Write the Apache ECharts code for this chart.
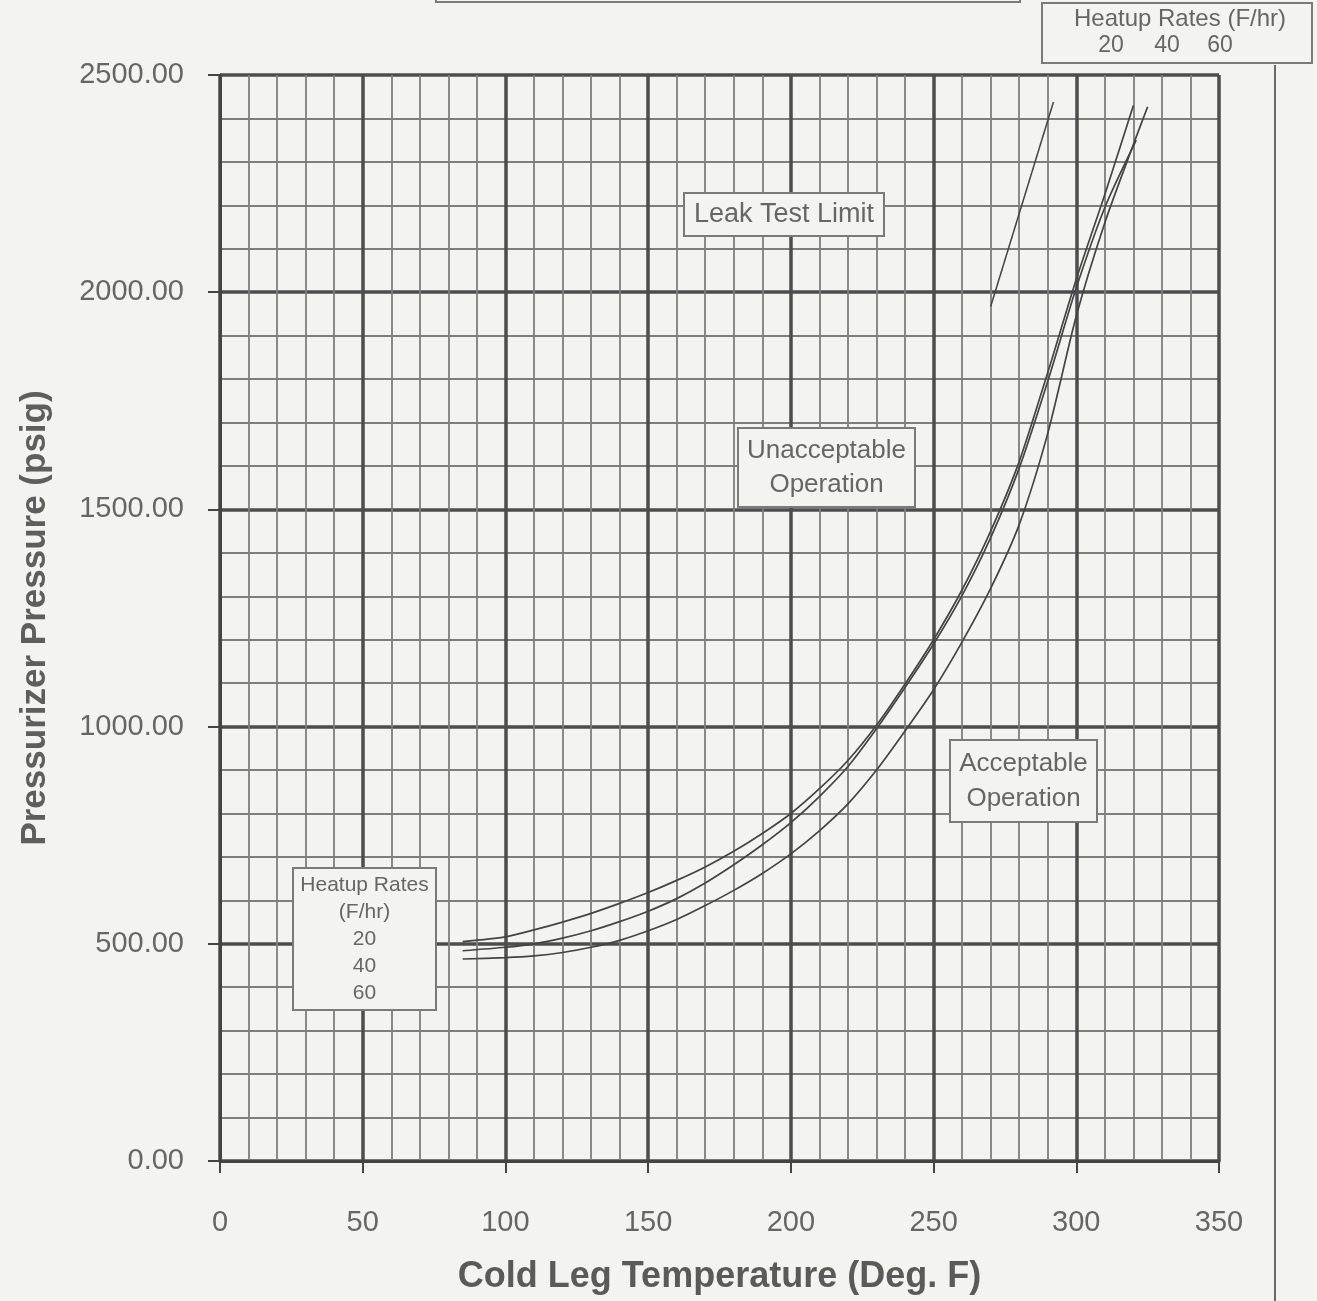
<!DOCTYPE html>
<html><head><meta charset="utf-8">
<script src="https://cdn.jsdelivr.net/npm/echarts@6/dist/echarts.min.js"></script>
<style>html,body{margin:0;padding:0;background:#f3f3f1;}#c{width:1317px;height:1301px;}</style>
</head><body><div id="c"></div>
<script>
// Data (temperature °F, pressure psig)
const rate20 = [[85,505],[100,516],[110,532],[120,550],[130,570],[140,593],[150,618],[160,646],[170,677],[180,713],[190,754],[200,800],[210,857],[220,922],[230,1003],[240,1098],[250,1200],[260,1315],[270,1450],[280,1610],[290,1815],[300,2030],[310,2225],[320,2430]];
const rate40 = [[85,484],[100,492],[110,500],[120,513],[130,530],[140,551],[150,575],[160,604],[170,640],[180,682],[190,728],[200,779],[210,839],[220,908],[230,995],[240,1090],[250,1190],[260,1302],[270,1435],[280,1595],[290,1795],[300,2010],[310,2195],[321,2350]];
const rate60 = [[85,465],[100,468],[110,472],[120,480],[130,492],[140,508],[150,530],[160,556],[170,588],[180,623],[190,662],[200,707],[210,760],[220,822],[230,900],[240,990],[250,1085],[260,1195],[270,1318],[280,1465],[290,1675],[300,1945],[310,2160],[320,2340],[325,2427]];
const leakTest = [[270,1967],[292,2438]];
const xTicks = [0,50,100,150,200,250,300,350];
const yTicks = [0,500,1000,1500,2000,2500];

const ink = '#444444';
const txt = '#666666';
const bg = '#f3f3f1';
const font = 'Liberation Sans';

const chart = echarts.init(document.getElementById('c'), null, {renderer:'canvas'});
function box(x,y,w,h,lines,size,lh){
  const els=[{type:'rect',shape:{x:x,y:y,width:w,height:h},style:{fill:bg,stroke:'#7a7a7a',lineWidth:2},z:100}];
  lines.forEach((t,i)=>{
    els.push({type:'text',x:x+w/2,y:y+(h-lh*lines.length)/2+lh*i+lh/2,style:{text:t,fill:txt,font:size+'px "'+font+'"',textAlign:'center',textVerticalAlign:'middle'},z:101});
  });
  return els;
}
const lineSeries = (name,data)=>({name:name,type:'line',data:data,smooth:0.25,symbol:'none',lineStyle:{color:ink,width:1.7},z:5});
function txtEl(x,y,s,size){return {type:'text',x:x,y:y,style:{text:s,fill:txt,font:size+'px "'+font+'"',textAlign:'center',textVerticalAlign:'middle'},z:101};}
chart.setOption({
  backgroundColor: bg,
  animation:false,
  grid:{left:220,right:98,top:75,bottom:140,containLabel:false},
  xAxis:{type:'value',min:xTicks[0],max:xTicks[xTicks.length-1],interval:50,
    name:'Cold Leg Temperature (Deg. F)',nameLocation:'middle',nameGap:98,
    nameTextStyle:{fontFamily:font,fontSize:36,fontWeight:'bold',color:'#5a5a5a'},
    axisLine:{show:true,lineStyle:{color:ink,width:3}},
    axisTick:{show:true,length:12,lineStyle:{color:ink,width:2}},
    axisLabel:{fontFamily:font,fontSize:29,color:txt,margin:47},
    splitLine:{show:true,lineStyle:{color:'#4d4d4d',width:3.5}},
    minorTick:{show:false,splitNumber:5},
    minorSplitLine:{show:true,lineStyle:{color:'#7e7e7e',width:1.8}}},
  yAxis:{type:'value',min:yTicks[0],max:yTicks[yTicks.length-1],interval:500,
    name:'Pressurizer Pressure (psig)',nameLocation:'middle',nameGap:167,
    nameTextStyle:{fontFamily:font,fontSize:35,fontWeight:'bold',color:'#5e5e5e'},
    axisLine:{show:true,lineStyle:{color:ink,width:3}},
    axisTick:{show:true,length:12,lineStyle:{color:ink,width:2}},
    axisLabel:{fontFamily:font,fontSize:29,color:txt,margin:36,formatter:v=>v.toFixed(2)},
    splitLine:{show:true,lineStyle:{color:'#4d4d4d',width:3.5}},
    minorTick:{show:false,splitNumber:5},
    minorSplitLine:{show:true,lineStyle:{color:'#7e7e7e',width:1.8}}},
  series:[lineSeries('20 F/hr',rate20),lineSeries('40 F/hr',rate40),lineSeries('60 F/hr',rate60),
    {name:'Leak Test Limit',type:'line',data:leakTest,symbol:'none',lineStyle:{color:ink,width:1.5},z:5}],
  graphic:[
    {type:'rect',shape:{x:436,y:-40,width:584,height:42},style:{fill:bg,stroke:'#7a7a7a',lineWidth:2}},
    {type:'line',shape:{x1:1275,y1:65,x2:1275,y2:1301},style:{stroke:'#6a6a6a',lineWidth:2}},
    ...box(684,193,200,43,['Leak Test Limit'],27,30),
    ...box(738,428,177,79,['Unacceptable','Operation'],26,34),
    ...box(950,740,147,82,['Acceptable','Operation'],26,35),
    ...box(293,868,143,142,['Heatup Rates','(F/hr)','20','40','60'],21,27),
    {type:'rect',shape:{x:1042,y:3,width:270,height:60},style:{fill:bg,stroke:'#7a7a7a',lineWidth:2},z:100},
    txtEl(1180,19,'Heatup Rates (F/hr)',24),
    txtEl(1111,46,'20',23),txtEl(1167,46,'40',23),txtEl(1220,46,'60',23)
  ]
});
</script></body></html>
